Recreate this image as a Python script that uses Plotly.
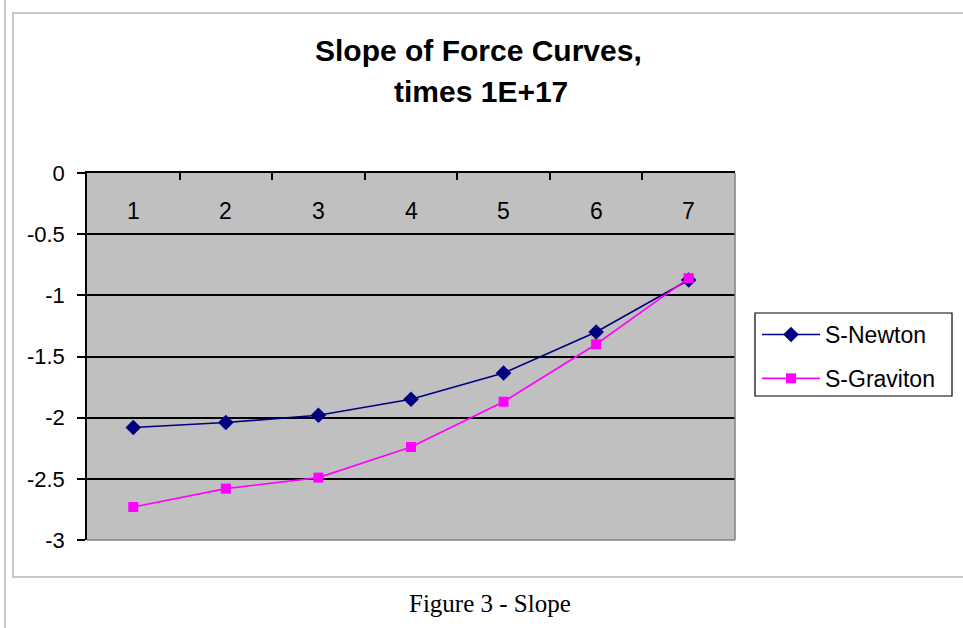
import plotly.graph_objects as go

categories = ["1", "2", "3", "4", "5", "6", "7"]
s_newton = [-2.08, -2.04, -1.98, -1.85, -1.635, -1.30, -0.875]
s_graviton = [-2.73, -2.58, -2.49, -2.24, -1.87, -1.40, -0.86]
y_tickvals = [0, -0.5, -1, -1.5, -2, -2.5, -3]
y_ticktext = ["0", "-0.5", "-1", "-1.5", "-2", "-2.5", "-3"]
title_lines = ["Slope of Force Curves,", "times 1E+17"]
caption = "Figure 3 - Slope"

W, H = 963, 628
L, R, T, B = 87, 735, 173, 540


def px(x):
    return (x - L) / (R - L)


def py(y):
    return (B - y) / (B - T)


fig = go.Figure()
fig.add_trace(go.Scatter(
    x=categories, y=s_newton, name="S-Newton", mode="lines+markers",
    line=dict(color="#000080", width=1.6),
    marker=dict(symbol="diamond", size=12, color="#000080"),
    legendgroup="a",
))
fig.add_trace(go.Scatter(
    x=categories, y=s_graviton, name="S-Graviton", mode="lines+markers",
    line=dict(color="#FF00FF", width=1.6),
    marker=dict(symbol="square", size=10, color="#FF00FF"),
    legendgroup="b",
))

font = "Liberation Sans, Arial, sans-serif"

annotations = [
    dict(text="<b>%s</b>" % title_lines[0], xref="paper", yref="paper",
         x=px(478), y=py(50), showarrow=False, xanchor="center", yanchor="middle",
         font=dict(size=30, family=font)),
    dict(text="<b>%s</b>" % title_lines[1], xref="paper", yref="paper",
         x=px(481), y=py(92), showarrow=False, xanchor="center", yanchor="middle",
         font=dict(size=30, family=font)),
    dict(text=caption, xref="paper", yref="paper",
         x=px(489.5), y=py(603), showarrow=False, xanchor="center", yanchor="middle",
         font=dict(size=25, family="Liberation Serif, Times New Roman, serif")),
]
# category labels drawn inside the plot, just under the top axis
for i, c in enumerate(categories):
    annotations.append(dict(
        text=c, x=i, y=-0.31, xref="x", yref="y", showarrow=False,
        xanchor="center", yanchor="middle",
        font=dict(size=23, family=font, color="black"),
    ))

fig.update_layout(
    width=W, height=H,
    margin=dict(l=L, r=W - R, t=T, b=H - B, pad=0),
    paper_bgcolor="white",
    plot_bgcolor="#C0C0C0",
    showlegend=True,
    font=dict(family=font, color="black"),
    legend=dict(
        x=px(757), y=py(313), xanchor="left", yanchor="top",
        borderwidth=0, bgcolor="rgba(0,0,0,0)",
        font=dict(size=23, family=font, color="black"),
        traceorder="grouped", tracegroupgap=11,
        itemwidth=58,
    ),
    xaxis=dict(
        type="category", side="top", range=[-0.5, 6.5],
        showline=True, linecolor="black", linewidth=2,
        ticks="inside", ticklen=7, tickwidth=1.5, tickcolor="black",
        tickson="boundaries", showticklabels=False,
        showgrid=False, zeroline=False, mirror=False,
    ),
    yaxis=dict(
        range=[-3, 0], tickvals=y_tickvals, ticktext=y_ticktext,
        showline=True, linecolor="black", linewidth=1.5,
        ticks="outside", ticklen=8, tickwidth=1.5, tickcolor="black",
        ticklabelstandoff=8,
        tickfont=dict(size=22, family=font, color="black"),
        showgrid=True, gridcolor="black", gridwidth=1.5,
        zeroline=False,
    ),
    shapes=[
        dict(type="rect", xref="paper", yref="paper",
             x0=px(13), x1=px(975), y0=py(577), y1=py(13),
             line=dict(color="#C8C8C8", width=2), layer="below"),
        dict(type="line", xref="paper", yref="paper",
             x0=px(5), x1=px(5), y0=py(640), y1=py(-10),
             line=dict(color="#C8C8C8", width=2), layer="below"),
        dict(type="rect", xref="paper", yref="paper",
             x0=px(755), x1=px(952), y0=py(396), y1=py(313),
             line=dict(color="black", width=1.2), fillcolor="white", layer="below"),
        dict(type="line", xref="paper", yref="paper",
             x0=0, x1=1, y0=0, y1=0,
             line=dict(color="#808080", width=1.5), layer="above"),
        dict(type="line", xref="paper", yref="paper",
             x0=1, x1=1, y0=0, y1=1,
             line=dict(color="#808080", width=1.5), layer="above"),
    ],
    annotations=annotations,
)

fig.write_html("out.html")
